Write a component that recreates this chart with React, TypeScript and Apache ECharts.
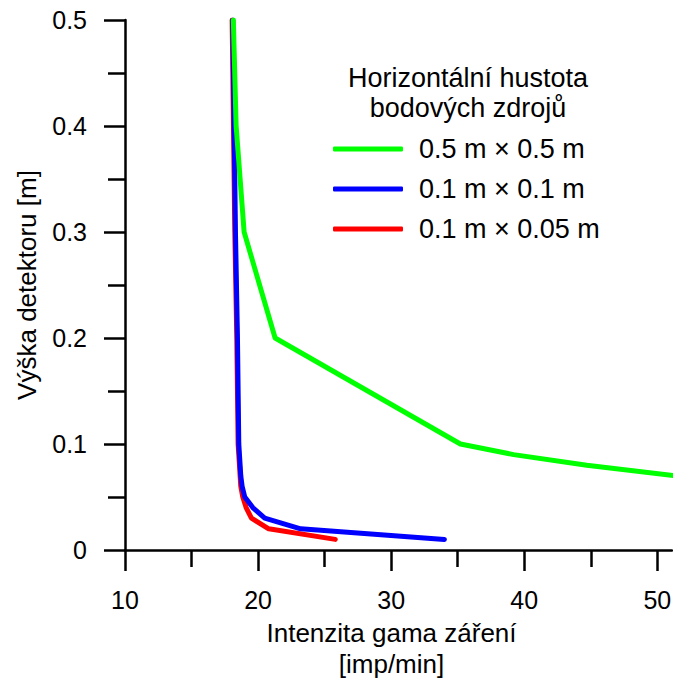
import React, { useEffect, useRef } from "react";
import * as echarts from "echarts";

const FONT = "'Liberation Sans', Arial, sans-serif";

// Detector heights [m]
const heightsGreen = [0.5, 0.4, 0.3, 0.2, 0.1, 0.09, 0.08, 0.07];
const heightsFine = [0.5, 0.4, 0.3, 0.2, 0.1, 0.09, 0.08, 0.07, 0.06, 0.05, 0.04, 0.03, 0.02, 0.01];

// Gamma intensity [imp/min]
const green05x05 = [18.14, 18.35, 18.95, 21.28, 35.2, 39.2, 44.7, 51.4];
const blue01x01 = [18.1, 18.2, 18.3, 18.45, 18.55, 18.6, 18.65, 18.7, 18.8, 19.0, 19.6, 20.5, 23.2, 34.0];
const red01x005 = [18.05, 18.15, 18.25, 18.4, 18.5, 18.55, 18.6, 18.65, 18.7, 18.85, 19.1, 19.5, 20.8, 25.8];

const seriesNames = ["0.5 m × 0.5 m", "0.1 m × 0.1 m", "0.1 m × 0.05 m"];

const xMajorTicks = [10, 20, 30, 40, 50];
const xMinorTicks = [15, 25, 35, 45];

const legendTitle = "Horizontální hustota\nbodových zdrojů";
const xTitle = "Intenzita gama záření\n[imp/min]";
const yTitle = "Výška detektoru [m]";

function pairs(xs: number[], ys: number[]) {
  return xs.map((x, i) => [x, ys[i]]);
}

export default function App() {
  const ref = useRef<HTMLDivElement>(null);

  useEffect(() => {
    if (!ref.current) return;
    const chart = echarts.init(ref.current, undefined, { renderer: "svg" });
    const axisColor = "#000";
    const lw = 2.5;
    const lineSeries = (name: string, data: number[][], color: string, z: number) => ({
      type: "line",
      name,
      data,
      symbol: "none",
      showSymbol: false,
      z,
      clip: true,
      lineStyle: { color, width: 5, cap: "round", join: "round" },
      itemStyle: { color },
    });

    chart.setOption({
      animation: false,
      backgroundColor: "#fff",
      grid: { left: 125, right: 1, top: 20, bottom: 131, outerBoundsMode: "none", containLabel: false },
      xAxis: [
        {
          type: "value",
          min: 10,
          max: 51.1,
          position: "bottom",
          axisLine: { show: true, onZero: false, lineStyle: { color: axisColor, width: lw } },
          axisTick: { show: true, customValues: xMajorTicks, length: 21, lineStyle: { color: axisColor, width: lw } },
          axisLabel: { customValues: xMajorTicks, margin: 37, fontSize: 25, color: "#000", fontFamily: FONT },
          splitLine: { show: false },
          name: xTitle,
          nameLocation: "middle",
          nameGap: 67,
          nameTextStyle: { fontSize: 26, lineHeight: 31, color: "#000", fontFamily: FONT, padding: [0, 14, 0, 0] },
        },
        {
          type: "value",
          min: 10,
          max: 51.1,
          position: "bottom",
          offset: 0,
          axisLine: { show: false, onZero: false },
          axisTick: { show: true, customValues: xMinorTicks, length: 17, lineStyle: { color: axisColor, width: lw } },
          axisLabel: { show: false },
          splitLine: { show: false },
        },
      ],
      yAxis: {
        type: "value",
        min: 0,
        max: 0.5,
        interval: 0.1,
        axisLine: { show: true, onZero: false, lineStyle: { color: axisColor, width: lw } },
        axisTick: { show: true, length: 21, lineStyle: { color: axisColor, width: lw } },
        minorTick: { show: true, splitNumber: 2, length: 17, lineStyle: { color: axisColor, width: lw } },
        axisLabel: { margin: 38, fontSize: 25, color: "#000", fontFamily: FONT },
        splitLine: { show: false },
        name: yTitle,
        nameLocation: "middle",
        nameGap: 85,
        nameTextStyle: { fontSize: 26, color: "#000", fontFamily: FONT },
      },
      legend: {
        orient: "vertical",
        left: 333,
        top: 134,
        padding: 0,
        itemWidth: 70,
        itemHeight: 5,
        itemGap: 10,
        icon: "roundRect",
        selectedMode: false,
        data: seriesNames,
        textStyle: { fontSize: 27, lineHeight: 30, color: "#000", fontFamily: FONT, padding: [0, 0, 0, 11] },
      },
      graphic: [
        {
          type: "text",
          x: 468,
          y: 63,
          style: {
            text: legendTitle,
            textAlign: "center",
            textVerticalAlign: "top",
            font: `27px ${FONT}`,
            lineHeight: 30,
            fill: "#000",
          },
        },
      ],
      series: [
        lineSeries(seriesNames[2], pairs(red01x005, heightsFine), "#ff0000", 2),
        lineSeries(seriesNames[1], pairs(blue01x01, heightsFine), "#0000ff", 3),
        lineSeries(seriesNames[0], pairs(green05x05, heightsGreen), "#00ff00", 4),
      ],
    });
    return () => chart.dispose();
  }, []);

  return <div ref={ref} style={{ width: 673, height: 681, position: "absolute", left: 0, top: 0 }} />;
}
